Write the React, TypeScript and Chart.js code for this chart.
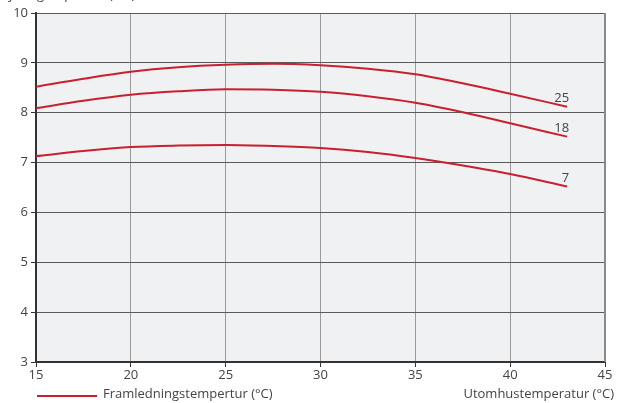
import React, { useEffect, useRef } from "react";
import { Chart, registerables } from "chart.js";

Chart.register(...registerables);

const outdoorTemps = [15, 17.5, 20, 22.5, 25, 27.5, 30, 32.5, 35, 37.5, 40, 43];
const series25 = [8.52, 8.68, 8.82, 8.91, 8.96, 8.98, 8.95, 8.88, 8.77, 8.59, 8.38, 8.12];
const series18 = [8.09, 8.24, 8.36, 8.43, 8.47, 8.46, 8.42, 8.33, 8.2, 8.01, 7.79, 7.52];
const series7 = [7.13, 7.23, 7.31, 7.34, 7.35, 7.33, 7.29, 7.21, 7.09, 6.94, 6.77, 6.52];
const seriesLabels = ["25", "18", "7"];
const yAxisTitle = "Kylningskapacitet (kW)";
const xAxisTitle = "Utomhustemperatur (°C)";
const legendLabel = "Framledningstempertur (°C)";

const RED = "#c8202f";
const FONT = "'Open Sans', 'DejaVu Sans', sans-serif";

export default function App() {
  const ref = useRef<HTMLCanvasElement | null>(null);
  useEffect(() => {
    const canvas = ref.current;
    if (!canvas) return;
    const toPts = (vals: number[]) => vals.map((v, i) => ({ x: outdoorTemps[i], y: v }));
    const deco = {
      id: "deco",
      beforeDraw(chart: any) {
        const { ctx, chartArea: a } = chart;
        ctx.save();
        ctx.fillStyle = "#f0f1f3";
        ctx.fillRect(a.left, a.top, a.right - a.left, a.bottom - a.top);
        ctx.restore();
      },
      afterDraw(chart: any) {
        const { ctx, chartArea: a } = chart;
        ctx.save();
        ctx.strokeStyle = "#8a8a8a";
        ctx.lineWidth = 2;
        ctx.beginPath();
        ctx.moveTo(a.right, a.top);
        ctx.lineTo(a.right, a.bottom);
        ctx.stroke();
        ctx.fillStyle = "#444";
        ctx.font = `13px ${FONT}`;
        ctx.textAlign = "right";
        ctx.textBaseline = "bottom";
        chart.data.datasets.forEach((ds: any, i: number) => {
          const meta = chart.getDatasetMeta(i);
          const last = meta.data[meta.data.length - 1];
          ctx.fillText(seriesLabels[i], last.x + 2, last.y - 2);
        });
        ctx.textAlign = "left";
        ctx.textBaseline = "alphabetic";
        ctx.fillText(yAxisTitle, 0, -1);
        ctx.strokeStyle = RED;
        ctx.lineWidth = 2;
        ctx.beginPath();
        ctx.moveTo(37, 396);
        ctx.lineTo(97, 396);
        ctx.stroke();
        ctx.textBaseline = "middle";
        ctx.fillText(legendLabel, 103, 394);
        ctx.textAlign = "right";
        ctx.fillText(xAxisTitle, 614, 394);
        ctx.restore();
      },
    };
    const chart = new Chart(canvas, {
      type: "line",
      data: {
        datasets: [series25, series18, series7].map((s) => ({
          data: toPts(s),
          borderColor: RED,
          borderWidth: 2,
          pointRadius: 0,
          fill: false,
          cubicInterpolationMode: "monotone" as const,
        })),
      },
      options: {
        animation: false,
        responsive: false,
        maintainAspectRatio: false,
        layout: { padding: { left: 0, top: 13, right: 13, bottom: 0 } },
        plugins: { legend: { display: false }, tooltip: { enabled: false } },
        scales: {
          x: {
            type: "linear",
            min: 15,
            max: 45,
            afterFit: (s: any) => {
              s.height = 41;
            },
            ticks: { stepSize: 5, color: "#444", font: { family: FONT, size: 13 }, padding: 0 },
            grid: { color: "#9a9a9a", lineWidth: 1, tickLength: 5, tickColor: "#333" },
            border: { color: "#333", width: 2 },
          },
          y: {
            min: 3,
            max: 10,
            afterFit: (s: any) => {
              s.width = 36;
            },
            ticks: { stepSize: 1, color: "#444", font: { family: FONT, size: 13 }, padding: 3 },
            grid: { color: "#5a5a5a", lineWidth: 1, tickLength: 5, tickColor: "#333" },
            border: { color: "#333", width: 2 },
          },
        },
      },
      plugins: [deco],
    });
    return () => chart.destroy();
  }, []);
  return (
    <div style={{ position: "fixed", left: 0, top: 0, width: 618, height: 403, background: "#fff" }}>
      <canvas ref={ref} width={618} height={403} style={{ display: "block" }} />
    </div>
  );
}
